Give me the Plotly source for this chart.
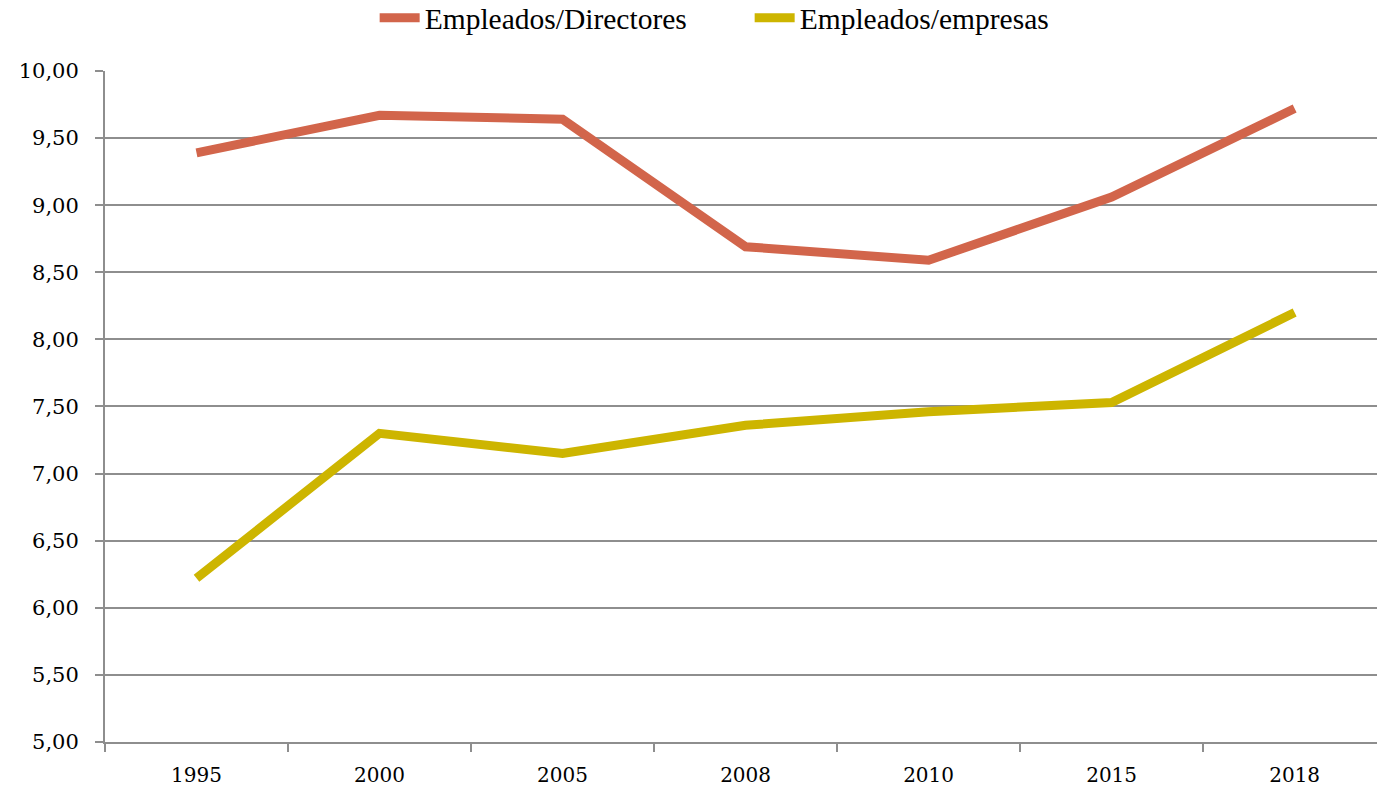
import plotly.graph_objects as go

years = ["1995", "2000", "2005", "2008", "2010", "2015", "2018"]
empleados_directores = [9.39, 9.67, 9.64, 8.69, 8.59, 9.06, 9.72]
empleados_empresas = [6.22, 7.30, 7.15, 7.36, 7.46, 7.53, 8.20]
y_ticks = [5.0, 5.5, 6.0, 6.5, 7.0, 7.5, 8.0, 8.5, 9.0, 9.5, 10.0]

fig = go.Figure()
fig.add_trace(go.Scatter(x=years, y=empleados_directores, mode="lines",
                         name="Empleados/Directores",
                         line=dict(color="#D2654B", width=9)))
fig.add_trace(go.Scatter(x=years, y=empleados_empresas, mode="lines",
                         name="Empleados/empresas",
                         line=dict(color="#CDB500", width=9)))

serif = "DejaVu Serif"
fig.update_layout(
    width=1377, height=791,
    margin=dict(l=105, r=0, t=40, b=49),
    plot_bgcolor="white", paper_bgcolor="white",
    separators=", ",
    font=dict(family=serif, color="#000000", size=21),
    legend=dict(orientation="h", x=0.212, xanchor="left",
                yref="container", y=0.977, yanchor="middle",
                font=dict(family="Liberation Serif", size=29.5),
                itemwidth=40, entrywidth=320, entrywidthmode="pixels", tracegroupgap=0),
    xaxis=dict(type="category", range=[-0.5, 6.45], tickson="boundaries",
               ticks="outside", ticklen=8, tickwidth=2, tickcolor="#8E8E8E",
               showgrid=False, showline=True, linecolor="#8E8E8E", linewidth=2,
               ticklabelstandoff=14, tickfont=dict(size=20)),
    yaxis=dict(range=[5, 10], tickvals=y_ticks, tickformat=".2f", domain=[0, 0.978],
               ticks="outside", ticklen=8, tickwidth=2, tickcolor="#8E8E8E",
               showgrid=True, gridcolor="#8E8E8E", gridwidth=2,
               showline=True, linecolor="#8E8E8E", linewidth=2,
               zeroline=False, ticklabelstandoff=12, tickfont=dict(size=21)),
)

fig.write_html("out.html")
